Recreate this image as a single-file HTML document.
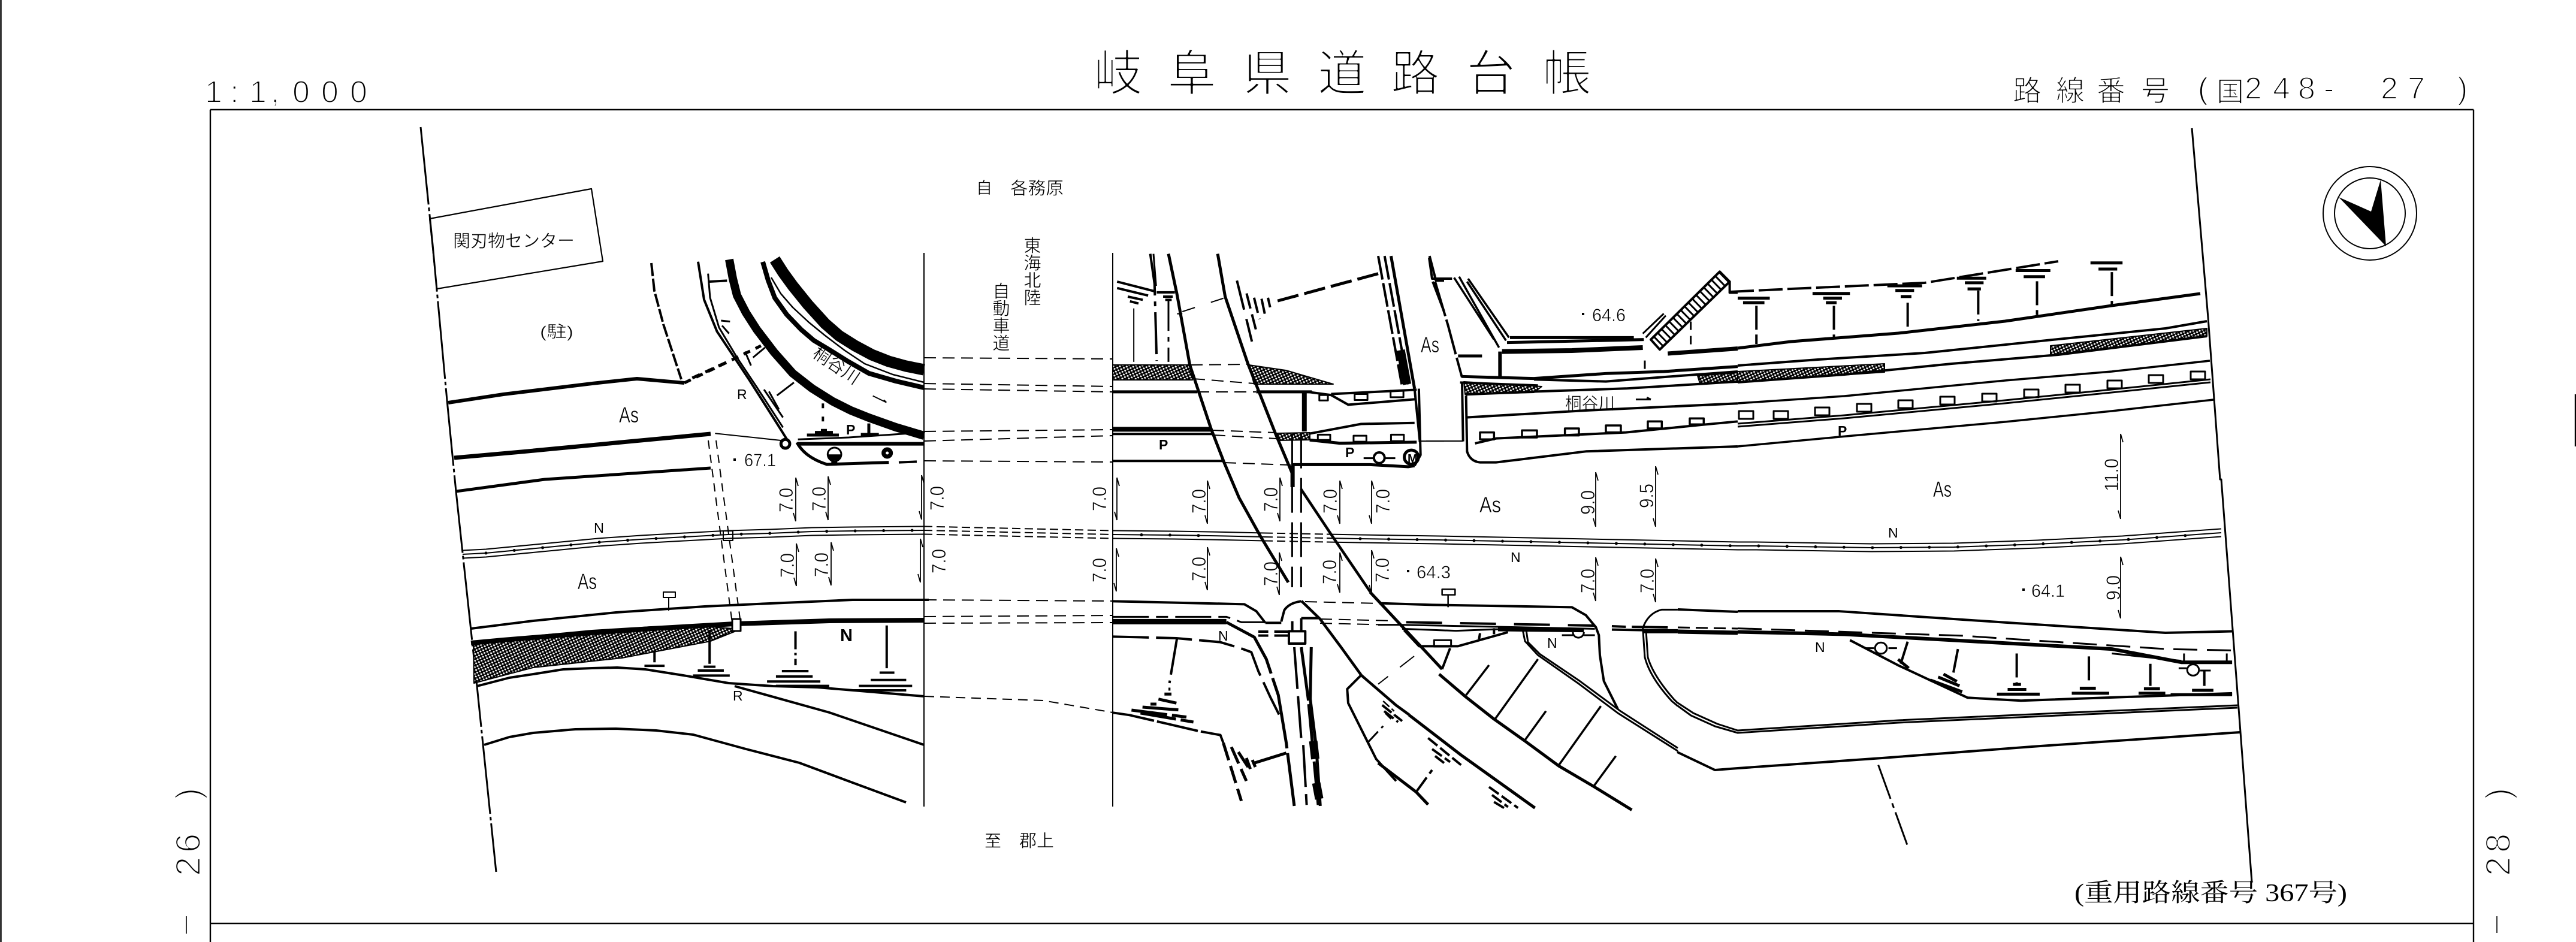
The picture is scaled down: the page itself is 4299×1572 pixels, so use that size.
<!DOCTYPE html>
<html lang="ja"><head><meta charset="utf-8"><title>岐阜県道路台帳</title>
<style>
html,body{margin:0;padding:0;background:#fff}
svg{display:block}
svg *{fill:none;stroke:#000;stroke-linejoin:round}
.n *{vector-effect:non-scaling-stroke}
svg text{font-family:"Liberation Sans","Noto Sans CJK JP",sans-serif;fill:#000;stroke:none;vector-effect:none}
svg text.h{stroke:#fff;stroke-width:3}
svg text.m{stroke:#fff;stroke-width:.6}
svg text.c{stroke:#fff;stroke-width:.5}
svg text.b{font-weight:bold;stroke:none}
svg text.se{font-family:"Liberation Serif","Noto Serif CJK SC",serif}
svg .fk{fill:#000;stroke:none}
svg .fw{fill:#fff}
svg .hf{fill:url(#hh);stroke:#000;stroke-width:2}
pattern *{stroke:none !important}
</style></head><body>
<svg xmlns="http://www.w3.org/2000/svg" width="4299" height="1572" viewBox="0 0 4299 1572">
<defs>
<pattern id="hh" width="7" height="7" patternUnits="userSpaceOnUse" patternTransform="rotate(20)">
<rect width="7" height="7" style="fill:#000"/><rect x=".6" y=".6" width="3" height="2.6" style="fill:#fff"/><rect x="4" y="4" width="2.8" height="2.6" style="fill:#fff"/>
</pattern>
</defs>
<rect x="0" y="0" width="4299" height="1572" style="fill:#fff;stroke:none"/>
<!-- frame -->
<g stroke-width="2.4">
<path d="M1.5 0V1572M351 183V1572M4128 183V1572M351 183H4128M351 1541H4128M4298 658V745"/>
<path d="M1542 422V1346M1857 422V1346" stroke-width="2"/>
<path d="M311 1529V1558M4167 1529V1557" stroke-width="1.6"/>
</g>
<!-- header text -->
<g>
<text class="h" font-size="82" y="151" x="1825 1948 2074 2199 2321 2447 2574">岐阜県道路台帳</text>
<text class="h" font-size="52" y="171" x="342 384 416 452 488 536 584" style="stroke-width:2">1:1,000</text>
<text class="h" font-size="48" y="168" x="3359 3431 3499 3573" style="stroke-width:1.6">路線番号</text>
<text class="h" font-size="50" y="165" x="3668" style="stroke-width:1.6">(</text>
<text class="h" font-size="46" y="169" x="3699" style="stroke-width:1.6">国</text>
<text class="h" font-size="52" y="165" x="3746 3793 3835 3878 3973 4018 4101" style="stroke-width:2">248-27)</text>
<g transform="translate(334,1462) rotate(-90)"><text class="h" font-size="58" x="0 39 128" style="stroke-width:2.4">26)</text></g>
<g transform="translate(4189,1462) rotate(-90)"><text class="h" font-size="58" x="0 39 128" style="stroke-width:2.4">28)</text></g>
</g>
<!-- main labels -->
<g>
<text class="c" font-size="29" x="756" y="412" textLength="203" lengthAdjust="spacingAndGlyphs">関刃物センター</text>
<text class="c" font-size="27" x="901" y="563" textLength="56" lengthAdjust="spacingAndGlyphs">(駐)</text>
<text class="c" font-size="27" x="1629" y="323">自</text><text class="c" font-size="29" x="1686" y="324" textLength="89" lengthAdjust="spacingAndGlyphs">各務原</text>
<g font-size="29" text-anchor="middle">
<text class="c" x="1723" y="420" text-anchor="middle">東</text><text class="c" x="1723" y="449" text-anchor="middle">海</text><text class="c" x="1723" y="478" text-anchor="middle">北</text><text class="c" x="1723" y="507" text-anchor="middle">陸</text>
<text class="c" x="1671" y="496" text-anchor="middle">自</text><text class="c" x="1671" y="525" text-anchor="middle">動</text><text class="c" x="1671" y="554" text-anchor="middle">車</text><text class="c" x="1671" y="583" text-anchor="middle">道</text>
</g>
<text class="c" font-size="28" x="1643" y="1413">至</text><text class="c" font-size="29" x="1701" y="1413" textLength="58" lengthAdjust="spacingAndGlyphs">郡上</text>
<text class="c" font-size="29" transform="translate(1354,594) rotate(34)">桐谷川</text>
<text class="c" font-size="28" x="2612" y="683" textLength="83" lengthAdjust="spacingAndGlyphs">桐谷川</text>
<text class="se" font-size="42" x="3462" y="1504" textLength="455" lengthAdjust="spacingAndGlyphs">(重用路線番号 367号)</text>
<g font-size="37">
<text class="m" x="1033" y="705" textLength="33" lengthAdjust="spacingAndGlyphs">As</text>
<text class="m" x="2371" y="588" textLength="31" lengthAdjust="spacingAndGlyphs">As</text>
<text class="m" x="2469" y="855" textLength="36" lengthAdjust="spacingAndGlyphs">As</text>
<text class="m" x="3226" y="829" textLength="31" lengthAdjust="spacingAndGlyphs">As</text>
<text class="m" x="964" y="983" textLength="32" lengthAdjust="spacingAndGlyphs">As</text>
</g>
<g font-size="23">
<text x="1230" y="666">R</text><text x="1223" y="1169">R</text>
<text class="b" x="1412" y="725">P</text><text class="b" x="1934" y="750">P</text><text class="b" x="2245" y="763">P</text><text class="b" x="3067" y="727">P</text>
<text x="991" y="889" textLength="17" lengthAdjust="spacingAndGlyphs">N</text>
<text x="2521" y="938">N</text><text x="2033" y="1069">N</text><text x="2582" y="1081">N</text><text x="3029" y="1088">N</text><text x="3151" y="897">N</text>
<text class="b" x="1402" y="1070" font-size="29">N</text>
</g>
<g font-size="30">
<text class="m" x="1242" y="778" textLength="53" lengthAdjust="spacingAndGlyphs">67.1</text>
<text class="m" x="2657" y="536" textLength="56" lengthAdjust="spacingAndGlyphs">64.6</text>
<text class="m" x="2364" y="965" textLength="57" lengthAdjust="spacingAndGlyphs">64.3</text>
<text class="m" x="3390" y="996" textLength="56" lengthAdjust="spacingAndGlyphs">64.1</text>
</g>
<rect class="fk" x="1224" y="765" width="4" height="4"/><rect class="fk" x="2640" y="522" width="4" height="4"/><rect class="fk" x="2348" y="951" width="4" height="4"/><rect class="fk" x="3375" y="982" width="4" height="4"/>
<!-- dimension text -->
<g font-size="32">
<text class="m" transform="translate(1323,855) rotate(-90)" textLength="41" lengthAdjust="spacingAndGlyphs">7.0</text>
<text class="m" transform="translate(1378,853) rotate(-90)" textLength="41" lengthAdjust="spacingAndGlyphs">7.0</text>
<text class="m" transform="translate(1575,852) rotate(-90)" textLength="41" lengthAdjust="spacingAndGlyphs">7.0</text>
<text class="m" transform="translate(1325,964) rotate(-90)" textLength="41" lengthAdjust="spacingAndGlyphs">7.0</text>
<text class="m" transform="translate(1382,963) rotate(-90)" textLength="41" lengthAdjust="spacingAndGlyphs">7.0</text>
<text class="m" transform="translate(1578,957) rotate(-90)" textLength="41" lengthAdjust="spacingAndGlyphs">7.0</text>
<text class="m" transform="translate(1846,853) rotate(-90)" textLength="41" lengthAdjust="spacingAndGlyphs">7.0</text>
<text class="m" transform="translate(1846,972) rotate(-90)" textLength="41" lengthAdjust="spacingAndGlyphs">7.0</text>
<text class="m" transform="translate(2012,857) rotate(-90)" textLength="41" lengthAdjust="spacingAndGlyphs">7.0</text>
<text class="m" transform="translate(2132,854) rotate(-90)" textLength="41" lengthAdjust="spacingAndGlyphs">7.0</text>
<text class="m" transform="translate(2231,857) rotate(-90)" textLength="41" lengthAdjust="spacingAndGlyphs">7.0</text>
<text class="m" transform="translate(2319,857) rotate(-90)" textLength="41" lengthAdjust="spacingAndGlyphs">7.0</text>
<text class="m" transform="translate(2012,970) rotate(-90)" textLength="41" lengthAdjust="spacingAndGlyphs">7.0</text>
<text class="m" transform="translate(2132,978) rotate(-90)" textLength="41" lengthAdjust="spacingAndGlyphs">7.0</text>
<text class="m" transform="translate(2230,975) rotate(-90)" textLength="41" lengthAdjust="spacingAndGlyphs">7.0</text>
<text class="m" transform="translate(2318,972) rotate(-90)" textLength="41" lengthAdjust="spacingAndGlyphs">7.0</text>
<text class="m" transform="translate(2661,859) rotate(-90)" textLength="41" lengthAdjust="spacingAndGlyphs">9.0</text>
<text class="m" transform="translate(2759,848) rotate(-90)" textLength="41" lengthAdjust="spacingAndGlyphs">9.5</text>
<text class="m" transform="translate(2661,990) rotate(-90)" textLength="41" lengthAdjust="spacingAndGlyphs">7.0</text>
<text class="m" transform="translate(2760,990) rotate(-90)" textLength="41" lengthAdjust="spacingAndGlyphs">7.0</text>
<text class="m" transform="translate(3535,820) rotate(-90)" textLength="55" lengthAdjust="spacingAndGlyphs">11.0</text>
<text class="m" transform="translate(3538,1002) rotate(-90)" textLength="42" lengthAdjust="spacingAndGlyphs">9.0</text>
</g>
</g>
<!-- dimension lines -->
<g stroke-width="1.8">
<path d="M1328 797V870m0-73l4 14m-4 59l-4-14M1382 795V868m0-73l4 14m-4 59l-4-14M1538 793V867m0-74l4 14m-4 60l-4-14M1329 907V978m0-71l4 14m-4 57l-4-14M1387 905V977m0-72l4 14m-4 58l-4-14M1536 899V972m0-73l4 14m-4 59l-4-14"/>
<path d="M1864 797V868m0-71l4 14m-4 57l-4-14M2015 802V874m0-72l4 14m-4 58l-4-14M2136 797V870m0-73l4 14m-4 59l-4-14M2236 802V874m0-72l4 14m-4 58l-4-14M2289 802V874m0-72l4 14m-4 58l-4-14"/>
<path d="M1863 915V987m0-72l4 14m-4 58l-4-14M2015 913V985m0-72l4 14m-4 58l-4-14M2135 922V993m0-71l4 14m-4 57l-4-14M2236 922V989m0-67l4 14m-4 53l-4-14M2289 918V990m0-72l4 14m-4 58l-4-14"/>
<path d="M2663 788V879m0-91l4 14m-4 77l-4-14M2763 778V879m0-101l4 14m-4 87l-4-14M2663 930V1003m0-73l4 14m-4 59l-4-14M2763 932V1005m0-73l4 14m-4 59l-4-14M3539 724V866m0-142l4 14m-4 128l-4-14M3539 929V1032m0-103l4 14m-4 89l-4-14"/>
</g>
<!-- centre line -->
<g id="cl" stroke-width="2">
<polyline points="772,925 811,923 905,914 998,905 1070,900 1142,896 1215,892 1285,890 1355,887 1423,886 1542,885"/>
<polyline points="1542,885 1857,892" stroke-dasharray="14 7"/>
<polyline points="1857,892 1960,893 2045,894.5 2110,896"/>
<polyline points="2110,896 2214,898" stroke-dasharray="14 7"/>
<polyline points="2214,898 2268,899 2400,901 2554,904 2700,907 2900,911 2931,911 3123,914 3261,913 3400,908 3542,901 3707,889"/>
</g>
<use href="#cl" y="-6.5"/><use href="#cl" y="6.5"/>
<polyline stroke-width="5" stroke-linecap="round" stroke-dasharray="0 47.5" points="811,923 905,914 998,905 1070,900 1142,896 1215,892 1285,890 1355,887 1423,886 1530,885"/>
<polyline stroke-width="5" stroke-linecap="round" stroke-dasharray="0 47.5" points="1905,892.5 1960,893 2047,894.5"/>
<polyline stroke-width="5" stroke-linecap="round" stroke-dasharray="0 47.5" points="2270,899 2400,901 2554,904 2700,907 2900,911 2931,911 3123,914 3261,913 3400,908 3542,901 3686,891"/>
<!-- boundaries -->
<polyline stroke-width="3" stroke-dasharray="130 5 6 5" points="702,212 722,408 746,668 761,820 796,1145 828,1455"/>
<polyline stroke-width="3" points="3658,214 3685,530 3705,800 3707,800 3758,1472"/>
<polygon stroke-width="2.2" points="717,365 987,315 1006,436 729,482"/>
<!-- hatched bands -->
<polyline stroke="url(#hh)" stroke-width="14" points="1217,433 1223,465 1230,493 1245,522 1263,550 1292,588 1323,623 1355,648 1390,670 1420,685 1450,697 1495,713 1542,727"/>
<polyline stroke="url(#hh)" stroke-width="19" points="1293,433 1307,455 1323,477 1348,508 1377,540 1400,560 1427,577 1455,592 1483,603 1512,611 1542,617"/>
<polyline stroke="url(#hh)" stroke-width="8" points="1273,437 1282,468 1293,497 1313,525 1337,550 1358,568 1383,583 1415,603 1450,623 1495,636 1542,647"/>
<polyline stroke-width="2.5" points="1287,463 1303,490 1323,513 1350,538 1377,560 1410,585 1443,607 1490,625 1542,638"/>
<polygon class="hf" points="790,1073 840,1066 988,1052 1087,1046 1186,1046 1236,1050 1186,1070 1038,1098 890,1114 791,1140"/>
<polygon class="hf" points="1857,609 1987,609 1990,634 1857,634"/>
<polygon class="hf" points="2084,609 2146,618 2225,641 2093,641"/>
<polygon class="hf" points="2129,723 2186,722 2186,734 2133,735"/>
<polygon class="hf" points="2900,620 3145,607 3145,621 2900,638"/>
<polygon class="hf" points="3422,577 3683,548 3683,561 3422,592"/>
<polygon class="hf" points="2443,637 2573,645 2560,655 2445,658"/>
<polygon class="hf" points="2833,627 2900,622 2900,638 2837,640"/>
<!-- left roads, real coords -->
<g stroke-width="6">
<polyline points="748,672 840,658 988,640 1063,632 1142,639"/>
<polyline points="758,764 870,754 1048,737 1186,724" stroke-width="7"/>
<polyline points="761,820 909,800 1186,781" stroke-width="5"/>
<polyline points="1142,639 1270,577" stroke-width="5" stroke-dasharray="12 10"/>
<polyline points="1087,439 1092,485 1107,541 1137,633" stroke-width="4" stroke-dasharray="22 4"/>
<polyline points="786,1049 890,1036 1028,1022 1176,1012 1285,1007 1423,1001 1550,1001" stroke-width="4"/>
<polyline points="786,1073 840,1068 988,1056 1087,1049 1226,1041 1384,1036 1542,1035" stroke-width="8"/>
<polyline points="796,1145 850,1131 890,1125 940,1117 988,1115 1030,1114 1077,1117 1140,1127 1216,1140 1290,1145 1364,1147 1542,1162" stroke-width="4"/>
<polyline points="1226,1145 1384,1189 1542,1243" stroke-width="4"/>
<polyline points="808,1243 850,1230 890,1223 960,1217 1028,1216 1095,1219 1157,1226 1245,1250 1334,1273 1420,1305 1512,1339" stroke-width="4"/>
</g>
<g stroke-width="2" stroke-dasharray="14 10">
<polyline points="1182,735 1222,1040"/><polyline points="1195,735 1236,1040"/>
</g>
<rect x="1207" y="886" width="16" height="16" stroke-width="2"/>
<rect x="1107" y="988" width="20" height="9" stroke-width="2"/><path d="M1116 997V1019" stroke-width="2"/>
<rect x="1222" y="1033" width="14" height="20" stroke-width="3" class="fw"/>
<!-- stacks left -->
<g class="n" transform="translate(0,800) scale(.9885,.4923)" stroke-width="4">
<path d="M1105 580V620M1088 632H1122M1198 510V625M1188 635H1208M1178 648H1222M1170 665H1232"/>
<path d="M1343 515V630" stroke-dasharray="30 6 4 6"/>
<path d="M1320 650H1365M1310 668H1372M1295 685H1385M1310 700H1400M1497 495V640M1485 655H1510M1470 680H1530M1450 700H1540M1440 715H1530" />
</g>
<!-- zoom 7 detail -->
<g class="n" transform="translate(1150,420) scale(.3333)" stroke-width="4">
<polyline points="45,50 75,240 140,400 300,640 440,860 490,940"/>
<polyline points="95,110 105,230 150,380 240,530 340,680 470,880" stroke-width="3"/>
<polyline points="100,150 190,145" stroke-width="4"/>
<path d="M185 555L0 640" stroke-dasharray="14 10" stroke-width="5"/>
<polyline points="130,910 460,945" stroke-width="2"/>
<path d="M380 480L320 530M280 500L310 570M525 655L440 720M375 690L470 830M400 700L450 790M160 345L205 350M165 370L200 410" stroke-width="3"/>
<path d="M545 962H1175" stroke-width="6"/>
<path d="M545 940L800 930L1175 905" stroke-width="3"/>
<path d="M540 955Q580 1030 690 1065L1000 1055" stroke-width="5"/>
<path d="M1050 1055L1175 1050" stroke-width="4" stroke-dasharray="30 14"/>
<circle cx="482" cy="962" r="22" stroke-width="5" class="fw"/>
<circle cx="728" cy="1015" r="34" stroke-width="3"/>
<path class="fk" d="M694 1015A34 34 0 0 0 762 1015ZM712 1045H742V1070H712Z"/>
<circle cx="992" cy="1008" r="18" stroke-width="7" class="fw"/>
<path d="M670 760V880" stroke-width="4" stroke-dasharray="8 14"/>
<path d="M900 860V910M660 895H690M630 905H720M590 918H750M860 915H950" stroke-width="5"/>
<path d="M920 722L988 755M988 755L975 742" stroke-width="2"/>
</g>
<!-- connectors dashed -->
<g stroke-width="2" stroke-dasharray="20 11">
<path d="M1542 597L1857 599M1542 640L1857 645M1542 649L1857 654M1542 720L1857 717M1542 736L1857 727M1542 769L1857 771M1543 1001L1857 1003M1542 1029L1857 1027M1542 1040L1857 1039"/>
<path d="M1987 609L2082 608M1991 632L2093 640M1998 654L2096 654M2023 718L2129 722M2025 726L2130 732M2043 772L2154 776"/>
<path d="M2178 1004L2303 1007M2203 1033L2327 1036M2203 1040L2328 1043"/>
</g>
<path d="M1543 1162L1741 1169L1857 1189" stroke-width="2" stroke-dasharray="16 10"/>
<!-- middle section -->
<g class="n" transform="translate(1850,420) scale(.35714)" stroke-width="3">
<path d="M22 655H415M690 655H950" stroke-width="5"/>
<path d="M22 830H480" stroke-width="8"/><path d="M22 852H490" stroke-width="4"/>
<path d="M22 978H540" stroke-width="4"/>
<polyline points="280,10 320,200 380,530 480,830 540,985 610,1150 710,1330 840,1545" stroke-width="5"/>
<polyline points="510,10 545,210 650,520 780,850 860,1040" stroke-width="5"/>
<path d="M860 1000V1100" stroke-width="7"/>
<path d="M858 850V1568M900 850V1568" stroke-dasharray="58 16" stroke-width="3"/>
<polyline points="195,10 215,150 225,510" stroke-width="4" stroke-dasharray="70 10 8 10"/>
<path d="M210 10L222 160" stroke-width="3"/>
<path d="M280 230V515" stroke-width="3" stroke-dasharray="50 10 8 10"/>
<path d="M118 265V515" stroke-width="2"/>
<path d="M40 140L215 185M40 170L185 205M90 210L160 225M100 232L140 242M225 190H310M255 210H300M265 225H295" stroke-width="4"/>
<path d="M320 290H345M345 280L545 215" stroke-width="2" stroke-dasharray="22 28"/>
<path d="M600 135L670 420" stroke-width="4" stroke-dasharray="50 16"/>
<path d="M645 195L690 370M680 215L705 315M715 220L730 290M745 215L755 260" stroke-width="4" stroke-dasharray="26 10"/>
<path d="M790 230L1270 100" stroke-width="5" stroke-dasharray="36 10"/>
<path d="M1260 20L1370 620M1290 20L1400 620" stroke-width="4" stroke-dasharray="40 6"/>
<path d="M1320 20L1430 640" stroke-width="5"/>
<path d="M1365 460L1395 620" stroke-width="14"/>
<path d="M1500 20L1530 135H1568M1515 140L1568 280" stroke-width="4"/>
<path d="M930 655L1040 670L1120 715L1430 690" stroke-width="4"/>
<path d="M1040 665L1250 655L1440 645" stroke-width="4"/>
<path d="M1430 640L1455 890M1450 640L1458 950L1430 1000" stroke-width="4"/>
<path d="M940 850L1180 805L1430 800" stroke-width="4"/>
<path d="M940 880L1080 895L1440 890" stroke-width="5"/>
<path d="M860 995H1220L1400 1005L1430 1000" stroke-width="5"/>
<path d="M915 660V840" stroke-width="8"/>
<path d="M1455 885H1568" stroke-width="2"/>
<rect x="985" y="670" width="40" height="25"/><rect x="1150" y="665" width="60" height="28"/><rect x="1318" y="650" width="60" height="30"/><rect x="978" y="855" width="58" height="25"/><rect x="1145" y="860" width="60" height="28"/><rect x="1320" y="855" width="60" height="30"/>
<path d="M1192 965H1240M1290 965H1340"/>
<circle cx="1265" cy="963" r="25" stroke-width="4" class="fw"/>
<circle cx="1415" cy="960" r="33" stroke-width="5" class="fw"/>
</g>
<text class="b" x="2349" y="772" font-size="20">M</text>
<!-- diagonals across the junction -->
<polyline stroke-width="4.5" points="2171,816 2223,894 2287,988"/>
<polyline stroke-width="4.5" points="2172,1003 2203,1033 2238,1080 2272,1127 2330,1177 2352,1193"/>
<!-- zoom 9 -->
<g class="n" transform="translate(1850,900) scale(.3333)" stroke-width="4">
<polyline points="22,310 680,325 740,360 785,418" stroke-width="4"/>
<path d="M785 418H865M865 412L880 355Q905 318 965 310"/>
<path d="M22 412H590" stroke-width="9"/>
<path d="M22 388H590L665 415H785" stroke-width="3" stroke-dasharray="60 12 20 12"/>
<polyline points="590,415 730,490 790,600 850,780 890,1020 930,1335" stroke-width="5" stroke-dasharray="120 8"/>
<polyline points="22,487 340,495 560,515 660,545 715,565 750,660 810,790 860,890" stroke-width="4" stroke-dasharray="60 12"/>
<path d="M342 500L305 720" stroke-width="4" stroke-dasharray="60 10"/>
<polyline points="22,868 105,880 300,925 450,960 560,980 575,1020" stroke-width="4" stroke-dasharray="70 5"/>
<path d="M575 1020L665 1310M615 1040L690 1210M650 1065L715 1165M690 1095L710 1150M720 1105L735 1140" stroke-width="5" stroke-dasharray="30 10"/>
<path d="M730 1120L890 1070" stroke-width="5"/>
<path d="M250 800L340 820M170 840L365 855M115 855L390 890M160 870L425 915M300 750H310M280 775H315M210 825H240" stroke-width="5" stroke-dasharray="60 8"/>
<rect x="903" y="460" width="82" height="62" stroke-width="4"/>
<path d="M920 410V460M965 395V460M965 395H1050M750 462H800M750 482H800M830 462H900M830 482H900"/>
<path d="M930 540L965 1000M975 1030L992 1330" stroke-width="4" stroke-dasharray="70 12"/>
<path d="M965 540L1000 800L1050 1330" stroke-width="5" stroke-dasharray="90 6"/>
<path d="M1015 540L1010 800L1040 1040L1060 1335" stroke-width="5"/>
<path d="M1025 1010L1035 1100M1040 1220L1055 1300" stroke-width="14"/>
<path d="M1265 680L1195 750L1200 820L1290 1000L1340 1100L1440 1210" stroke-width="4"/>
<path d="M1300 1015L1375 935" stroke-width="3" stroke-dasharray="24 8"/>
<path d="M1375 810L1430 860M1385 840L1430 880M1385 870L1420 905" stroke-width="2.5" stroke-dasharray="14 5"/>
</g>
<!-- zoom 10 -->
<g class="n" transform="translate(2300,960) scale(.3333)" stroke-width="4">
<polyline points="5,140 270,148 970,160 1040,200 1090,260 1105,300 1110,400 1130,530 1200,670"/>
<rect x="320" y="70" width="65" height="28" stroke-width="2.5"/><path d="M350 98V160" stroke-width="2.5"/>
<path d="M140 235L1080 252M1170 255L1240 258M1270 258L1500 262" stroke-width="4" stroke-dasharray="60 30"/>
<path d="M0 248H100L1085 268" stroke-width="3"/>
<path d="M1170 272L1500 278" stroke-width="4" stroke-dasharray="60 30"/>
<path d="M120 268L390 278L600 270" stroke-width="3"/><path d="M600 270L1030 275" stroke-width="7"/>
<path d="M-40 85L320 470" stroke-width="5"/>
<path d="M130 275L205 355H400L650 285" stroke-width="4"/>
<rect x="280" y="325" width="85" height="32" stroke-width="3"/>
<path d="M360 365L320 470M510 290L505 320M580 265V295" stroke-width="4"/>
<polyline points="305,495 440,610 580,720 735,830 905,955 1075,1055 1270,1175" stroke-width="5"/>
<path d="M440 600L555 450M585 720L800 420M735 825L840 680M905 950L1115 655M1080 1055L1190 905" stroke-width="3.5"/>
<polyline points="725,280 735,330 800,400 1000,540 1200,690 1500,880" stroke-width="3"/>
<polyline points="742,280 750,335 810,395 1010,530 1210,678 1500,865" stroke-width="3"/>
<path d="M920 300H975M1030 300H1085" stroke-width="3"/>
<path d="M975 285A27 27 0 1 0 1030 285" stroke-width="3"/>
<path d="M1500 172H1420Q1350 190 1325 265L1335 410Q1360 510 1470 630L1500 655" stroke-width="3"/>
<path d="M1342 290L1350 410Q1375 500 1480 620L1500 640" stroke-width="3"/>
<path d="M1325 280H1500" stroke-width="7"/>
<polyline points="155,700 415,900 785,1165" stroke-width="5"/>
<path d="M0 940L190 1085L250 1148" stroke-width="5"/>
<path d="M190 1085L270 975" stroke-width="4" stroke-dasharray="30 8"/>
<path d="M180 405L0 545" stroke-width="2" stroke-dasharray="30 25"/>
<path d="M250 815L415 950M270 870L360 935M285 905L330 940M555 1060L700 1165M570 1100L650 1160M580 1135L630 1165M20 650L120 730M30 680L100 735" stroke-width="4" stroke-dasharray="20 6"/>
</g>
<polyline stroke-width="4" points="2799,1255 2862,1285 2900,1282 3141,1265 3391,1246 3738,1222" />
<polyline stroke-width="3" points="2800,1178 2822,1194 2862,1212 2900,1223 3168,1206 3435,1194 3734,1181"/>
<polyline stroke-width="3" points="2800,1173 2826,1190 2866,1208 2900,1219 3168,1202 3435,1190 3734,1177" />
<polyline stroke-width="4" points="2800,1017 2900,1021"/>
<polyline stroke-width="7" points="2800,1054 2900,1056"/>
<polyline stroke-width="3" stroke-dasharray="20 10" points="2800,1047 2900,1049"/>
<!-- upper right, zoom 11 -->
<g class="n" transform="translate(2380,420) scale(.3333)" stroke-width="4">
<path d="M15 30L30 135H130" stroke-width="4"/>
<path d="M45 150L110 370L150 520L180 630" stroke-width="4" stroke-dasharray="60 6"/>
<path d="M180 650L185 950M200 720L205 1000Q220 1050 270 1055H350L800 1000L1560 975" stroke-width="4"/>
<path d="M0 948H185" stroke-width="2"/>
<path d="M420 430H1040" stroke-width="5"/><path d="M405 455L1090 440" stroke-width="5"/>
<path d="M380 500L730 495L1085 480" stroke-width="8"/>
<path d="M1210 510L1560 485" stroke-width="7"/>
<path d="M140 130L340 440M165 125L365 480M210 135L415 430M205 150L400 445" stroke-width="3.5"/>
<polygon class="fw" points="1470,100 1520,150 1170,490 1125,440" stroke-width="4"/>
<path d="M1495 125L1147 465" stroke-width="20" stroke-dasharray="3 6"/>
<path d="M1085 410L1190 310M1100 430L1200 320" stroke-width="3"/>
<path d="M1520 150V205H1560" stroke-width="4"/>
<path d="M370 500V630" stroke-width="6" stroke-dasharray="50 20"/>
<path d="M160 522H330" stroke-width="5" stroke-dasharray="40 20"/>
<path d="M180 625L540 635L900 610L1190 600L1560 575" stroke-width="5"/>
<path d="M170 655L560 670" stroke-width="4"/><path d="M540 640L900 650L1290 620L1560 600" stroke-width="4"/>
<path d="M200 715L560 700L1000 685L1330 665L1560 650" stroke-width="4"/>
<path d="M200 830L800 795L1560 760" stroke-width="4"/>
<path d="M245 960L350 935L1000 905L1400 865L1560 850" stroke-width="4"/>
<rect x="270" y="905" width="70" height="35" stroke-width="3.5"/><rect x="480" y="895" width="75" height="35" stroke-width="3.5"/><rect x="695" y="885" width="70" height="35" stroke-width="3.5"/><rect x="900" y="870" width="75" height="35" stroke-width="3.5"/><rect x="1110" y="850" width="70" height="35" stroke-width="3.5"/><rect x="1320" y="835" width="70" height="30" stroke-width="3.5"/>
<path d="M1095 545V600M1325 350V490" stroke-width="3" stroke-dasharray="14 10"/>
<path d="M1050 740H1125M1125 740L1105 730" stroke-width="3"/>
</g>
<!-- right side, real coords -->
<g stroke-width="5">
<polyline points="2900,581 2989,570 3168,556 3346,536 3524,510 3672,490"/>
<polyline points="2900,610 3034,600 3212,589 3435,566 3614,548 3683,536" stroke-width="4"/>
<polyline points="2900,638 3078,625 3257,607 3435,592 3683,561" stroke-width="4"/>
<polyline points="2900,673 3078,661 3346,635 3524,620 3688,602" stroke-width="3.5"/>
<polyline points="2900,707 3078,693 3346,668 3524,650 3689,633" stroke-width="3"/>
<polyline points="2900,712 3078,698 3346,673 3524,655 3689,638" stroke-width="3"/>
<polyline points="2900,745 3070,729 3346,704 3524,686 3694,667" stroke-width="3.5"/>
<polyline points="2887,487 2989,482 3212,472 3435,436" stroke-width="4" stroke-dasharray="40 8"/>
</g>
<g stroke-width="3">
<rect x="2902" y="686" width="24" height="13"/><rect x="2960" y="686" width="24" height="13"/><rect x="3029" y="680" width="24" height="13"/><rect x="3099" y="674" width="24" height="13"/><rect x="3168" y="668" width="24" height="13"/><rect x="3238" y="662" width="24" height="13"/><rect x="3308" y="657" width="24" height="13"/><rect x="3378" y="650" width="24" height="13"/><rect x="3447" y="642" width="24" height="13"/><rect x="3517" y="635" width="24" height="13"/><rect x="3586" y="626" width="24" height="13"/><rect x="3656" y="620" width="24" height="13"/>
</g>
<g class="n" transform="translate(2900,0) scale(.892,.5102)" stroke-width="4">
<path d="M35 1000V1125M180 1000V1105M318 990V1075M450 950V1050M560 920V1030M700 890V1000" stroke-dasharray="40 8"/>
<path d="M0 975H60M10 990H50M140 960H210M160 975H195M165 990H185M280 935H345M295 950H330M305 970H325M410 910H465M425 925H460M430 945H455M520 885H585M535 905H575M660 860H720M675 880H710" stroke-width="5"/>
</g>
<!-- lower right, crop F coordinates -->
<g class="n" transform="translate(2900,800) scale(.892,.4923)" stroke-width="4">
<path d="M0 447H190L500 485L800 520L925 515"/>
<path d="M0 517L200 525L400 545L700 575L830 620H925" stroke-width="6"/>
<path d="M0 505L420 530L800 575L930 580" stroke-width="3" stroke-dasharray="40 16"/>
<path d="M210 545L300 630L430 740L530 750L925 725" stroke-width="4"/>
<path d="M318 550L305 625M412 575L403 660M522 590V690M657 600V690M772 625V700M873 645V700" stroke-width="4" stroke-dasharray="40 8"/>
<path d="M360 680L420 720M375 670L415 700M385 660L410 685M300 610L320 640M485 728H565M505 712H540M515 695H530M625 725H695M640 708H670M750 725H800M760 710H790M810 730H925M850 715H890" stroke-width="5"/>
<path d="M240 572H255M282 572H298M825 640H840M865 648H885" stroke-width="3"/>
<ellipse cx="268" cy="572" rx="11" ry="19" stroke-width="3" class="fw"/>
<ellipse cx="852" cy="646" rx="11" ry="19" stroke-width="3" class="fw"/>
<path d="M700 590L830 615M835 590V625M915 590V625" stroke-width="3"/>
<path d="M263 968L317 1238" stroke-width="3" stroke-dasharray="60 8 8 8"/>
</g>
<!-- compass -->
<g stroke-width="2">
<circle cx="3955" cy="356" r="78"/><circle cx="3955" cy="356" r="59"/>
<polygon class="fk" points="3903,329 3957,353 3973,300 3982,411"/>
</g>
</svg>
</body></html>
